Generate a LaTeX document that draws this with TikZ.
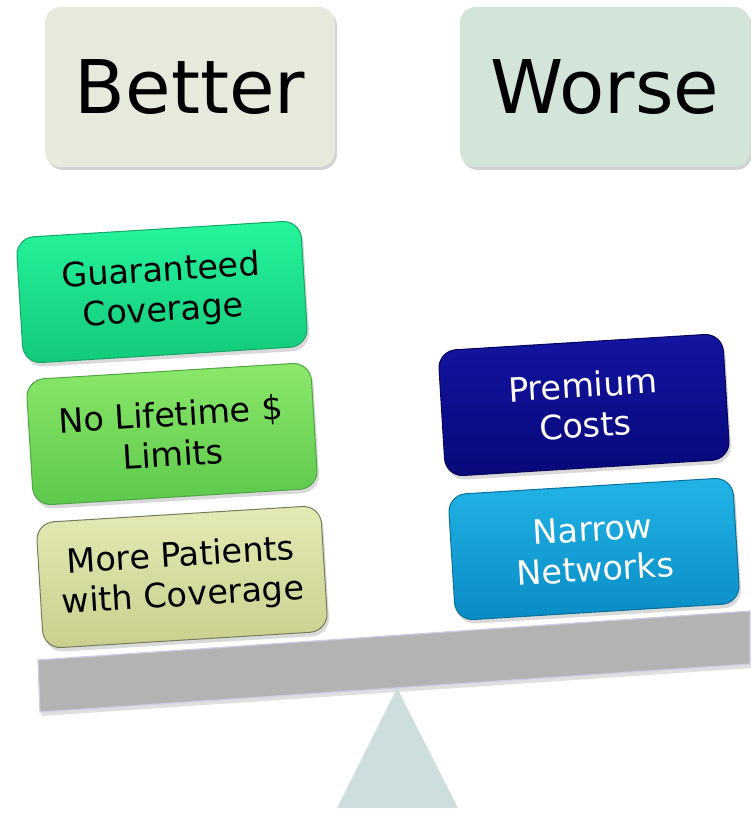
\documentclass[tikz,border=0pt]{standalone}
\usepackage{fontspec}
\setmainfont{DejaVu Sans}
\usetikzlibrary{shadows}

\definecolor{betterbg}{HTML}{E6EADC}
\definecolor{worsebg}{HTML}{D3E5D8}
\definecolor{beamgray}{HTML}{B3B3B3}
\definecolor{beamedge}{HTML}{CFCDE6}
\definecolor{pivotcol}{HTML}{CCDEDD}

\tikzset{
  headbox/.style={rounded corners=16pt, minimum width=290pt, minimum height=160pt,
    font=\fontsize{74}{80}\selectfont, drop shadow={opacity=0.35, shadow xshift=2pt, shadow yshift=-3pt}},
  weight/.style={rounded corners=18pt, rotate=3.5, minimum width=285pt, minimum height=126pt,
    align=center, font=\fontsize{33.5}{40}\selectfont, line width=1pt,
    drop shadow={opacity=0.3, shadow xshift=2pt, shadow yshift=-4pt}},
  weightleft/.style={weight, text=black},
  weightright/.style={weight, text=white}
}

\begin{document}
\begin{tikzpicture}[x=1pt, y=-1pt]
\useasboundingbox (0, 0) rectangle (750, 813);
% headings
\node[headbox, fill=betterbg] (better) at (190, 87) {Better};
\node[headbox, fill=worsebg] (worse) at (605, 87) {Worse};
% beam and pivot
\draw[draw=beamedge, fill=beamgray, line width=1.2pt, drop shadow={opacity=0.25, shadow xshift=2pt, shadow yshift=-4pt}] (38, 660) -- (750, 611) -- (750, 664) -- (40, 712) -- cycle;
\fill[pivotcol] (397, 688) -- (458, 808) -- (337, 808) -- cycle;
% left pile
\node[weightleft, draw={rgb,255:red,20;green,168;blue,104}, top color={rgb,255:red,38;green,245;blue,156}, bottom color={rgb,255:red,18;green,201;blue,122}] (guaranteed) at (162, 292) {Guaranteed\\Coverage};
\node[weightleft, draw={rgb,255:red,79;green,165;blue,66}, top color={rgb,255:red,139;green,232;blue,106}, bottom color={rgb,255:red,92;green,200;blue,76}] (lifetime) at (172, 434) {No Lifetime \$\\Limits};
\node[weightleft, draw={rgb,255:red,120;green,124;blue,90}, top color={rgb,255:red,228;green,234;blue,180}, bottom color={rgb,255:red,200;green,207;blue,142}] (patients) at (182, 577) {More Patients\\with Coverage};
% right pile
\node[weightright, draw={rgb,255:red,5;green,5;blue,90}, top color={rgb,255:red,20;green,20;blue,160}, bottom color={rgb,255:red,8;green,8;blue,122}] (premium) at (584, 405) {Premium\\Costs};
\node[weightright, draw={rgb,255:red,8;green,112;blue,156}, top color={rgb,255:red,34;green,180;blue,230}, bottom color={rgb,255:red,10;green,140;blue,196}] (narrow) at (594, 549) {Narrow\\Networks};
\end{tikzpicture}
\end{document}
